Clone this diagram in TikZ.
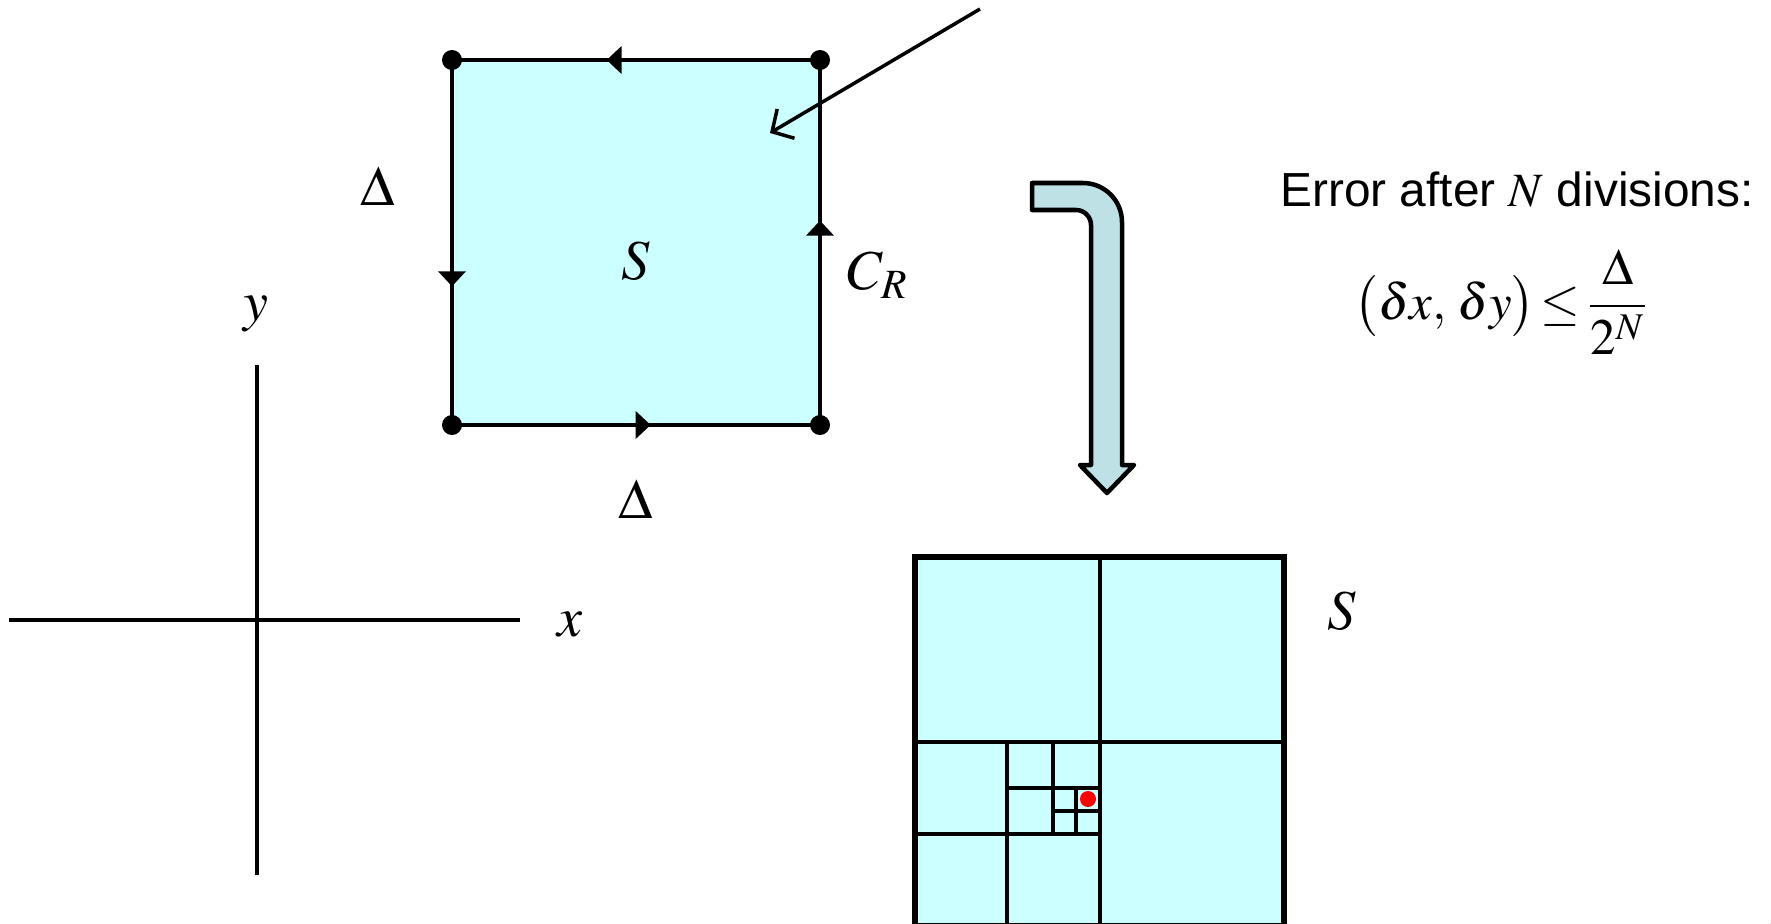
\documentclass[tikz,border=0pt]{standalone}
\usepackage[no-math]{fontspec}
\usepackage{mathptmx}
\newfontfamily\arialfont{Liberation Sans}
\usetikzlibrary{arrows.meta,decorations.markings}

\definecolor{sqcyan}{HTML}{CCFFFF}
\definecolor{bendfill}{RGB}{190,225,230}

\begin{document}
\begin{tikzpicture}[x=0.01cm, y=-0.01cm,
		edge/.style={line width=0.048cm, black},
		corner/.style={circle, fill=black, inner sep=0pt, minimum size=0.2cm},
		lbl/.style={font=\fontsize{16}{19}\selectfont},
		midarrow/.style={postaction={decorate, decoration={markings,
			mark=at position #1 with {\arrow{Triangle[width=0.27cm, length=0.15cm]}}}}},
		gridline/.style={line width=0.04cm},
		bendarrow/.style={fill=bendfill, draw=black, line width=0.045cm, line join=round}]
		
		\useasboundingbox (0,0) rectangle (1771,924);
		
		% ==========================================
		% THE CONTOUR C_R AROUND S
		% ==========================================
		\coordinate (tl) at (452,60);
		\coordinate (tr) at (820,60);
		\coordinate (bl) at (452,425);
		\coordinate (br) at (820,425);
		
		\fill[sqcyan] (tl) rectangle (br);
		
		% edges run anticlockwise
		\draw[edge, midarrow=0.58] (tr) -- (tl);
		\draw[edge, midarrow=0.62] (tl) -- (bl);
		\draw[edge, midarrow=0.54] (bl) -- (br);
		\draw[edge, midarrow=0.56] (br) -- (tr);
		
		\foreach \c in {tl, tr, bl, br}
			\node[corner] (dot-\c) at (\c) {};
		
		% pointer into the square
		\coordinate (ptrtail) at (980,9);
		\coordinate (ptrhead) at (770,133);
		\draw[line width=0.035cm, -{Straight Barb[length=0.16cm, width=0.34cm]}] (ptrtail) -- (ptrhead);
		
		\node[lbl] (dleft) at (378,186) {$\Delta$};
		\node[lbl] (dbottom) at (636,499) {$\Delta$};
		\node[lbl] (sname) at (636,261) {$S$};
		\node[lbl] (cname) at (878,275) {$C_R$};
		
		% ==========================================
		% AXES
		% ==========================================
		\coordinate (ytop) at (257,365);
		\coordinate (ybot) at (257,875);
		\coordinate (xleft) at (9,620);
		\coordinate (xright) at (520,620);
		\draw[line width=0.035cm] (ybot) -- (ytop);
		\draw[line width=0.035cm] (xleft) -- (xright);
		\node[lbl] (ylab) at (256,314) {$y$};
		\node[lbl] (xlab) at (570,625) {$x$};
		
		% ==========================================
		% BENT ARROW
		% ==========================================
		\filldraw[bendarrow] (1032,183) -- (1083,183)
			.. controls (1104.5,183) and (1122,200.5) .. (1122,222)
			-- (1122,465) -- (1134,465) -- (1107,493) -- (1080,465) -- (1091,465)
			-- (1091,225) .. controls (1091,216.7) and (1084.3,210) .. (1076,210)
			-- (1032,210) -- cycle;
		
		% ==========================================
		% SUBDIVIDED SQUARE
		% ==========================================
		\fill[sqcyan] (915,557) rectangle (1284,926);
		% x/y/side of each square that gets split in four
		\foreach \x/\y/\s in {915/557/369, 915/741.5/184.5, 1007.25/741.5/92.25, 1053.375/787.625/46.125} {
			\draw[gridline] (\x+\s/2,\y) -- ++(0,\s);
			\draw[gridline] (\x,\y+\s/2) -- ++(\s,0);
		}
		\draw[line width=0.055cm] (915,557) rectangle (1284,926);
		\node[circle, fill=red, inner sep=0pt, minimum size=0.16cm] (limpt) at (1088,799) {};
		\node[lbl] (sright) at (1342,611) {$S$};
		
		% ==========================================
		% ERROR BOUND
		% ==========================================
		\node[font=\arialfont\fontsize{13.6}{16}\selectfont] (errtxt) at (1517,190) {Error after $N$ divisions:};
		\node[font=\fontsize{14.5}{17}\selectfont] (bound) at (1502,302)
			{$\displaystyle \bigl(\delta x,\,\delta y\bigr)\!\le\!\frac{\Delta}{2^N}$};
		
		\node[font=\arialfont\fontsize{14}{17}\selectfont, anchor=base west] (pagenum) at (1756,950) {2};
		
	\end{tikzpicture}
\end{document}
